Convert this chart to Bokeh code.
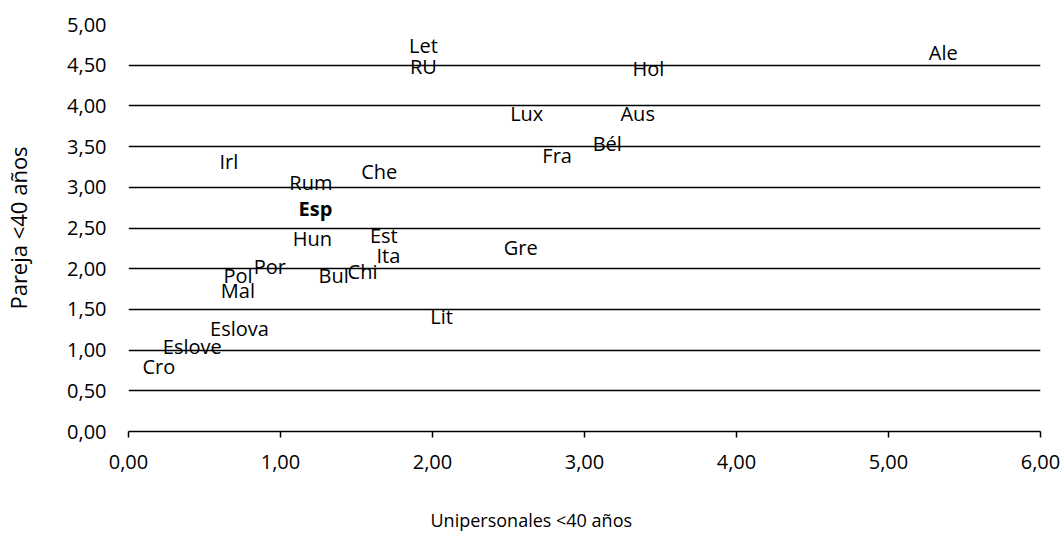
from bokeh.plotting import figure
from bokeh.models import ColumnDataSource, Range1d, FixedTicker, Title, LinearAxis
from bokeh.core.properties import value
from bokeh.embed import file_html
from bokeh.resources import INLINE

# ---- data ----
countries = ["Let", "RU", "Hol", "Ale", "Lux", "Aus", "Bél", "Fra", "Irl", "Che",
             "Rum", "Esp", "Hun", "Est", "Ita", "Gre", "Por", "Pol", "Mal", "Bul",
             "Chi", "Lit", "Eslova", "Eslove", "Cro"]
unipersonales = [1.94, 1.94, 3.42, 5.36, 2.62, 3.35, 3.15, 2.82, 0.66, 1.65,
                 1.20, 1.23, 1.21, 1.68, 1.71, 2.58, 0.93, 0.72, 0.72, 1.35,
                 1.54, 2.06, 0.73, 0.42, 0.20]
pareja = [4.73, 4.47, 4.45, 4.64, 3.89, 3.90, 3.53, 3.38, 3.30, 3.18,
          3.05, 2.73, 2.36, 2.39, 2.15, 2.25, 2.02, 1.90, 1.72, 1.90,
          1.95, 1.40, 1.25, 1.03, 0.79]
highlight = "Esp"

x_ticks = [0, 1, 2, 3, 4, 5, 6]
x_tick_labels = ["0,00", "1,00", "2,00", "3,00", "4,00", "5,00", "6,00"]
y_ticks = [0, 0.5, 1, 1.5, 2, 2.5, 3, 3.5, 4, 4.5, 5]
y_tick_labels = ["0,00", "0,50", "1,00", "1,50", "2,00", "2,50", "3,00",
                 "3,50", "4,00", "4,50", "5,00"]
x_title = "Unipersonales <40 años"
y_title = "Pareja <40 años"

FONT = "Open Sans"

normal_idx = [i for i, c in enumerate(countries) if c != highlight]
bold_idx = [i for i, c in enumerate(countries) if c == highlight]
src_normal = ColumnDataSource(dict(
    x=[unipersonales[i] for i in normal_idx],
    y=[pareja[i] for i in normal_idx],
    t=[countries[i] for i in normal_idx]))
src_bold = ColumnDataSource(dict(
    x=[unipersonales[i] for i in bold_idx],
    y=[pareja[i] for i in bold_idx],
    t=[countries[i] for i in bold_idx]))

p = figure(width=1063, height=535, output_backend="svg", toolbar_location=None,
           x_range=Range1d(0, 6), y_range=Range1d(0, 5),
           min_border_left=128, min_border_right=23,
           min_border_top=24, min_border_bottom=104)
p.outline_line_color = None
p.background_fill_color = "white"
p.border_fill_color = "white"

p.xgrid.visible = False
p.ygrid.ticker = FixedTicker(ticks=y_ticks)
p.ygrid.grid_line_color = "black"
p.ygrid.grid_line_width = 1.5

xa = p.xaxis[0]
xa.ticker = FixedTicker(ticks=x_ticks)
xa.major_label_overrides = {t: l for t, l in zip(x_ticks, x_tick_labels)}
xa.axis_line_color = "black"
xa.axis_line_width = 1.5
xa.major_tick_line_color = "black"
xa.major_tick_line_width = 1.5
xa.major_tick_out = 6
xa.major_tick_in = 0
xa.minor_tick_line_color = None
xa.major_label_standoff = 17
xa.major_label_text_font = FONT
xa.major_label_text_font_size = "20px"
xa.major_label_text_color = "black"

ya = p.yaxis[0]
ya.ticker = FixedTicker(ticks=y_ticks)
ya.major_label_overrides = {t: l for t, l in zip(y_ticks, y_tick_labels)}
ya.axis_line_color = None
ya.major_tick_line_color = None
ya.minor_tick_line_color = None
ya.major_tick_out = 0
ya.major_tick_in = 0
ya.major_label_standoff = 22
ya.major_label_text_font = FONT
ya.major_label_text_font_size = "20px"
ya.major_label_text_color = "black"
ya.axis_label = y_title
ya.axis_label_standoff = 31
ya.axis_label_text_font = FONT
ya.axis_label_text_font_size = "22px"
ya.axis_label_text_font_style = "normal"
ya.axis_label_text_color = "black"

# invisible spacer axis that only reserves room between tick labels and x title
spacer = LinearAxis(ticker=FixedTicker(ticks=[3]), major_label_overrides={3: ""},
                    axis_line_color=None,
                    major_tick_line_color=None, minor_tick_line_color=None,
                    major_tick_out=36, major_tick_in=0, minor_tick_out=0,
                    major_label_standoff=0, major_label_text_font_size="1px")
p.add_layout(spacer, "below")

p.add_layout(Title(text=x_title, align="left", offset=302, standoff=0,
                   vertical_align="top",
                   text_font=FONT, text_font_size="18px",
                   text_font_style="normal", text_color="black"), "below")

p.text(x="x", y="y", text="t", source=src_normal,
       text_font=value(FONT), text_font_size="20px", text_color="black",
       text_align="center", text_baseline="alphabetic", y_offset=-1)
p.text(x="x", y="y", text="t", source=src_bold,
       text_font=value(FONT), text_font_size="20px", text_color="black",
       text_font_style="bold",
       text_align="center", text_baseline="alphabetic", y_offset=-1)

open("out.html", "w").write(file_html(p, INLINE))
